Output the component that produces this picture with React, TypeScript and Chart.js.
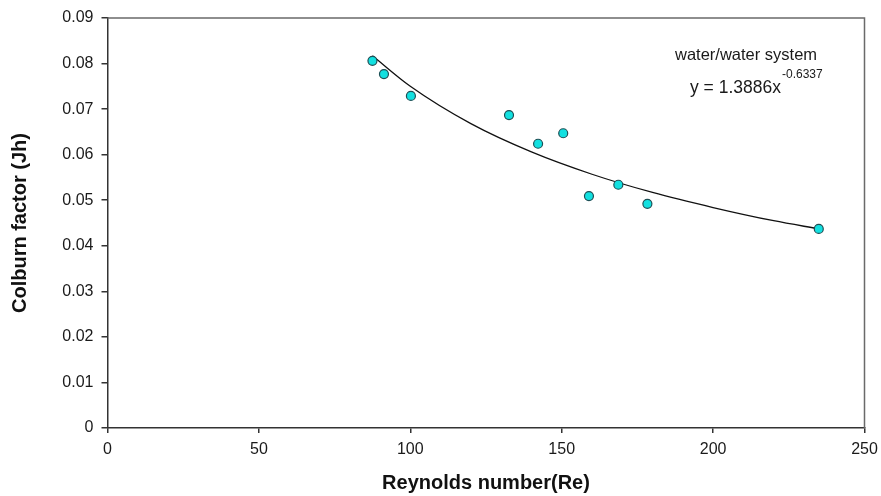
import React, { useEffect, useRef } from "react";
import { Chart, registerables } from "chart.js";

Chart.register(...registerables);

// Measured data points (Reynolds number, Colburn factor)
const reValues = [87.5, 91.3, 100.2, 132.6, 142.2, 150.5, 159.0, 168.7, 178.3, 234.9];
const jhValues = [0.0806, 0.0777, 0.0729, 0.0687, 0.0624, 0.0647, 0.0509, 0.0534, 0.0492, 0.0437];

// Trend line (power fit y = 1.3886x^-0.6337)
const trendRe = [87.5, 100, 120, 140, 160, 180, 200, 220, 235];
const trendJh = [0.0817, 0.075, 0.0668, 0.0606, 0.0557, 0.0517, 0.0484, 0.0455, 0.0437];

const xTicks = [0, 50, 100, 150, 200, 250];
const yTicks = [0, 0.01, 0.02, 0.03, 0.04, 0.05, 0.06, 0.07, 0.08, 0.09];
const yTickLabels = ["0", "0.01", "0.02", "0.03", "0.04", "0.05", "0.06", "0.07", "0.08", "0.09"];

const xTitle = "Reynolds number(Re)";
const yTitle = "Colburn factor (Jh)";
const noteTitle = "water/water system";
const eqMain = "y = 1.3886x";
const eqExp = "-0.6337";

const FONT = "'Liberation Sans', Arial, Helvetica, sans-serif";

const framePlugin = {
  id: "frame",
  beforeDatasetsDraw(chart: any) {
    const { ctx, chartArea } = chart;
    ctx.save();
    ctx.strokeStyle = "#6a6a6a";
    ctx.lineWidth = 1.5;
    ctx.beginPath();
    ctx.moveTo(chartArea.left, chartArea.top);
    ctx.lineTo(chartArea.right, chartArea.top);
    ctx.lineTo(chartArea.right, chartArea.bottom);
    ctx.stroke();
    ctx.restore();
  },
  afterDraw(chart: any) {
    const { ctx } = chart;
    ctx.save();
    ctx.fillStyle = "#1a1a1a";
    ctx.textBaseline = "alphabetic";
    ctx.textAlign = "left";
    ctx.font = `16.5px ${FONT}`;
    ctx.fillText(noteTitle, 675, 60);
    ctx.font = `17.5px ${FONT}`;
    ctx.fillText(eqMain, 690, 93);
    const w = ctx.measureText(eqMain).width;
    ctx.font = `12px ${FONT}`;
    ctx.fillText(eqExp, 690 + w + 1, 78);
    ctx.restore();
  },
};

export default function App() {
  const ref = useRef<HTMLCanvasElement | null>(null);

  useEffect(() => {
    if (!ref.current) return;
    const chart = new Chart(ref.current, {
      type: "scatter",
      data: {
        datasets: [
          {
            type: "line",
            label: "trend",
            data: trendRe.map((x, i) => ({ x, y: trendJh[i] })),
            borderColor: "#111",
            borderWidth: 1.3,
            pointRadius: 0,
            fill: false,
            cubicInterpolationMode: "monotone",
            order: 2,
          } as any,
          {
            label: "data",
            data: reValues.map((x, i) => ({ x, y: jhValues[i] })),
            backgroundColor: "#12e0e0",
            borderColor: "#1d4f55",
            borderWidth: 1.2,
            pointRadius: 4.5,
            order: 1,
          },
        ],
      },
      options: {
        responsive: false,
        animation: false,
        layout: { padding: { top: 18, right: 16.5, bottom: 0, left: 0 } },
        plugins: {
          legend: { display: false },
          tooltip: { enabled: false },
        },
        scales: {
          x: {
            type: "linear",
            min: 0,
            max: 250,
            afterFit(scale: any) {
              scale.height = 68;
              scale.paddingLeft = 0;
              scale.paddingRight = 0;
            },
            afterBuildTicks(scale: any) {
              scale.ticks = xTicks.map((v) => ({ value: v }));
            },
            ticks: {
              color: "#1a1a1a",
              font: { family: FONT, size: 16 },
              padding: 7,
              maxRotation: 0,
              callback: (v: any) => String(v),
            },
            grid: {
              drawOnChartArea: false,
              drawTicks: true,
              tickLength: 5,
              color: "#333",
              lineWidth: 1.5,
            },
            border: { color: "#333", width: 1.5 },
            title: {
              display: true,
              text: xTitle,
              color: "#111",
              font: { family: FONT, size: 20, weight: "bold" },
              padding: { top: 4, bottom: 1 },
            },
          },
          y: {
            type: "linear",
            min: 0,
            max: 0.09,
            afterFit(scale: any) {
              scale.width = 107.5;
              scale.paddingTop = 0;
              scale.paddingBottom = 0;
            },
            afterBuildTicks(scale: any) {
              scale.ticks = yTicks.map((v) => ({ value: v }));
            },
            ticks: {
              color: "#1a1a1a",
              font: { family: FONT, size: 16 },
              padding: 8,
              callback: (v: any) => {
                const i = yTicks.findIndex((t) => Math.abs(t - Number(v)) < 1e-9);
                return i >= 0 ? yTickLabels[i] : "";
              },
            },
            grid: {
              drawOnChartArea: false,
              drawTicks: true,
              tickLength: 6,
              color: "#333",
              lineWidth: 1.5,
            },
            border: { color: "#333", width: 1.5 },
            title: {
              display: true,
              text: yTitle,
              color: "#111",
              font: { family: FONT, size: 20, weight: "bold" },
              padding: { top: 8, bottom: 0 },
            },
          },
        },
      },
      plugins: [framePlugin],
    });
    return () => chart.destroy();
  }, []);

  return (
    <div style={{ position: "fixed", left: 0, top: 0, width: 881, height: 496, background: "#fff" }}>
      <canvas ref={ref} width={881} height={496} />
    </div>
  );
}
